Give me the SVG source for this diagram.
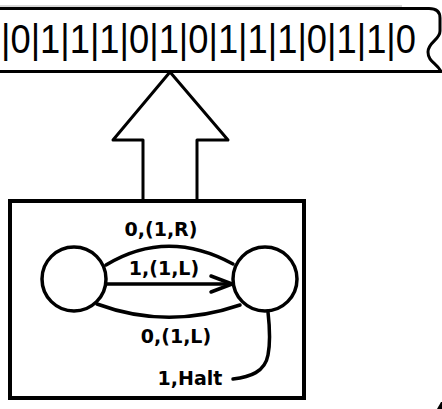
<svg xmlns="http://www.w3.org/2000/svg" width="442" height="409" viewBox="0 0 442 409">
  <style>
    .ink { fill: none; stroke: #000; stroke-linejoin: round; stroke-linecap: round; }
    .tapeText { font-family: "Liberation Sans", Arial, sans-serif; font-size: 36px; fill: #000; }
    .lbl { font-family: "DejaVu Sans", "Liberation Sans", sans-serif; font-weight: bold; font-size: 19px; fill: #000; text-anchor: middle; }
  </style>
  <rect width="442" height="409" fill="#fff"/>

  <!-- tape with torn right end -->
  <g id="tape">
    <line x1="0" y1="6" x2="402" y2="6" stroke="#b0b0b0" stroke-width="1"/>
    <path class="ink" stroke-width="3" d="M0,8.5 H429 Q440,8.5 440,18 V31 C440,40 428,42 428,52 C428,62 437,63 441,71.5 M441,71.5 H0"/>
    <!-- tall, slightly condensed cell symbols -->
    <text class="tapeText" transform="scale(1,1.15)" x="1" y="46.1" textLength="415" lengthAdjust="spacingAndGlyphs">|0|1|1|1|0|1|0|1|1|1|0|1|1|0</text>
  </g>

  <!-- read/write head arrow -->
  <g id="head">
    <path class="ink" stroke-width="3" stroke-linejoin="miter" d="M143,201 V140 H113 L170,72 L228,140 H197 V201"/>
  </g>

  <!-- finite control -->
  <g id="control">
    <rect x="10" y="201" width="294" height="197" fill="none" stroke="#000" stroke-width="4"/>
  </g>

  <g id="state-a">
    <circle class="ink" cx="74" cy="279" r="32" stroke-width="3.5"/>
  </g>
  <g id="state-b">
    <circle class="ink" cx="265" cy="279" r="32" stroke-width="3.5"/>
  </g>

  <g id="connectors">
    <path class="ink" stroke-width="3.5" d="M106,265 Q167,228 233,264"/>
    <path class="ink" stroke-width="3.5" d="M107,284 H230"/>
    <path class="ink" stroke-width="3.5" d="M211,276 L232,284 L211,292"/>
    <path class="ink" stroke-width="3.5" d="M97,304 Q167,330 240,305"/>
    <path class="ink" stroke-width="3.5" d="M268,312 C270,330 270,345 268,355 C265,372 250,377 233,379"/>
  </g>

  <g id="labels">
    <text class="lbl" x="161" y="236">0,(1,R)</text>
    <text class="lbl" x="164" y="275">1,(1,L)</text>
    <text class="lbl" x="176" y="343">0,(1,L)</text>
    <text class="lbl" x="190" y="385">1,Halt</text>
  </g>

  <!-- edge of a neighbouring shape -->
  <polygon points="437,409 441,402 442,402 442,409" fill="#000"/>
</svg>
